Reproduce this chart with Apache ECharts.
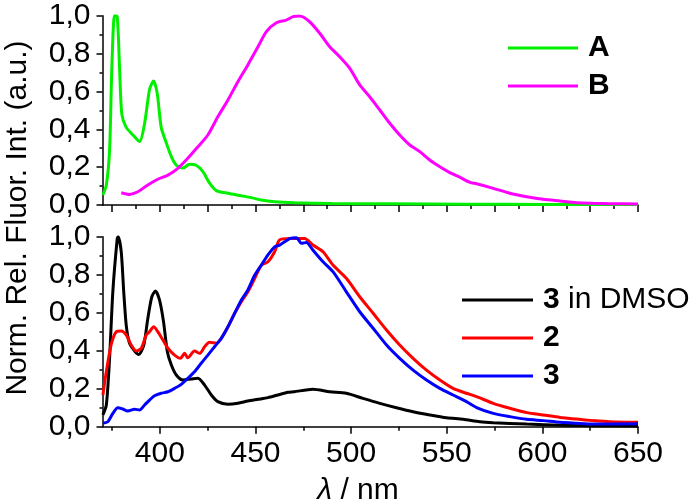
<!DOCTYPE html>
<html>
<head>
<meta charset="utf-8">
<script src="https://cdn.jsdelivr.net/npm/echarts@6/dist/echarts.min.js"></script>
<style>
html,body{margin:0;padding:0;background:#fff;}
#chart{width:689px;height:504px;}
</style>
</head>
<body>
<div id="chart"></div>
<script>
// ---------- data (wavelength in nm, normalized intensity) ----------
const A_nm  = [370.2,372,373.7,374.9,376.3,377.7,378.9,380.1,382.4,385.9,389.4,392,394.6,396.7,398.6,400.7,403.3,406,408.6,412,415.5,419,422.5,426,429.5,435.6,442.6,447.8,453,460,470.5,490,520,560,600,650];
const A_val = [0.053,0.105,0.29,0.73,1.0,0.995,0.73,0.48,0.41,0.37,0.335,0.43,0.61,0.655,0.59,0.41,0.33,0.255,0.21,0.195,0.215,0.21,0.176,0.115,0.076,0.062,0.049,0.039,0.026,0.017,0.012,0.008,0.006,0.004,0.003,0.002];

const B_nm  = [379.8,384.1,388.5,393.7,398.9,404.2,409.4,414.6,419.9,425.1,430.3,435.6,440.8,446,451.3,455.7,460.9,466.1,469.6,473.1,478.3,483.6,488.8,494,499.3,504.5,509.7,515,520.2,525.4,530.7,535.9,541.1,546.4,551.6,556.8,562.1,565.6,574.3,583,591.8,600.4,609.2,617.9,626.6,635.3,650];
const B_val = [0.065,0.056,0.07,0.106,0.136,0.158,0.194,0.247,0.308,0.37,0.466,0.555,0.651,0.74,0.836,0.916,0.963,0.977,0.995,0.998,0.968,0.907,0.836,0.783,0.722,0.634,0.572,0.502,0.432,0.37,0.317,0.282,0.238,0.202,0.171,0.147,0.12,0.112,0.088,0.062,0.044,0.03,0.021,0.012,0.009,0.007,0.005];

const D_nm  = [370.2,372,373.7,375.4,377.7,378.2,379.8,381.1,382.4,384.1,386.7,389,391.6,393.7,395.8,397.7,399.8,401.9,403.9,406,408.6,412,416.4,419.9,423.4,426.9,430.3,435.6,440.8,446,451.3,456.5,461.7,467,470.1,480,488.8,497.5,506.2,515,523.7,532.4,541.1,549.9,558.6,567.3,574.3,591.8,610,630,650];
const D_val = [0.062,0.114,0.36,0.71,0.99,1.0,0.92,0.71,0.535,0.44,0.40,0.38,0.43,0.57,0.684,0.714,0.667,0.553,0.395,0.325,0.272,0.246,0.251,0.255,0.219,0.167,0.132,0.118,0.123,0.135,0.144,0.153,0.167,0.181,0.184,0.197,0.184,0.176,0.149,0.123,0.10,0.079,0.062,0.047,0.039,0.026,0.021,0.014,0.008,0.005,0.004];

const R_nm  = [370.2,372,374.5,377.2,379.8,382.4,385,387.6,390.3,392.9,394.6,396.8,398.9,401.6,404.2,407.7,410.8,412.9,414.6,418.1,420.8,423.4,426,429.5,432.1,435.6,439.1,442.6,446,449.6,453.1,456.5,460,462.6,467.9,475.7,480,485.3,490.5,497.5,504.5,511.5,518.5,525.4,532.4,539.4,546.4,553.3,560.3,565.6,574.3,583,591.8,600.4,609.2,617.9,626.6,635.3,650];
const R_val = [0.167,0.29,0.43,0.50,0.504,0.483,0.43,0.398,0.413,0.483,0.50,0.526,0.50,0.456,0.413,0.377,0.36,0.386,0.363,0.398,0.386,0.421,0.444,0.439,0.465,0.526,0.597,0.658,0.71,0.781,0.851,0.868,0.921,0.983,0.99,0.99,0.956,0.921,0.851,0.781,0.684,0.597,0.509,0.43,0.36,0.298,0.246,0.202,0.176,0.158,0.123,0.097,0.074,0.062,0.049,0.04,0.032,0.026,0.023];

const C_nm  = [370.2,372.8,375.4,378,380.6,383.2,386.7,389.4,392,394.6,397.2,400.7,404.2,407.7,411.2,414.6,418.1,421.6,425.1,428.6,432.1,435.6,439.1,442.6,446,449.6,453.1,456.5,460,462.6,467.9,471.4,474,476.6,480,485.3,490.5,497.5,504.5,511.5,518.5,525.4,532.4,539.4,546.4,553.3,560.3,565.6,574.3,583,591.8,600.4,609.2,617.9,626.6,650];
const C_val = [0.018,0.026,0.07,0.10,0.093,0.083,0.092,0.088,0.114,0.14,0.163,0.176,0.184,0.202,0.223,0.255,0.289,0.334,0.377,0.421,0.465,0.526,0.597,0.667,0.72,0.798,0.851,0.904,0.947,0.956,0.99,0.995,0.965,0.97,0.93,0.868,0.816,0.71,0.605,0.518,0.43,0.36,0.298,0.246,0.202,0.167,0.132,0.101,0.07,0.053,0.039,0.032,0.023,0.018,0.014,0.016];

const xMajorTop = [375,400,425,450,475,500,525,550,575,600,625,650];
const xMinorTop = [387.5,412.5,437.5,462.5,487.5,512.5,537.5,562.5,587.5,612.5,637.5];
const xMajorBottom = [400,450,500,550,600,650];
const xMinorBottom = [375,425,475,525,575,625];

const seriesNames = ['A','B','3 in DMSO','2','3'];
const seriesColors = ['#00f000','#ff00ff','#000000','#ff0000','#0000ff'];

// ---------- chart ----------
const pairs = (xs, ys) => xs.map((x, i) => [x, ys[i]]);
const FONT = '"Liberation Sans", Arial, sans-serif';

const chart = echarts.init(document.getElementById('chart'), null, {renderer: 'canvas'});

const grids = [
  {left: 102.5, right: 51, top: 15.7, height: 189.3},
  {left: 102.5, right: 51, top: 236.7, height: 190}
];

function xAxisDef(grid, ticks, len, labels, showLine) {
  return {
    type: 'value', gridIndex: grid, min: 370, max: 650, position: 'bottom',
    axisLine: {show: showLine, onZero: false, lineStyle: {color: '#000', width: 1.5}},
    axisTick: {show: true, length: len, customValues: ticks, lineStyle: {color: '#000', width: 1.5}},
    axisLabel: labels ? {show: true, customValues: labels, fontSize: 30, color: '#000', fontFamily: FONT, margin: 12} : {show: false},
    splitLine: {show: false}
  };
}
function yAxisDef(grid) {
  return {
    type: 'value', gridIndex: grid, min: 0, max: 1, interval: 0.2,
    axisLine: {show: true, onZero: false, lineStyle: {color: '#000', width: 1.5}},
    axisTick: {show: true, length: 6, lineStyle: {color: '#000', width: 1.5}},
    minorTick: {show: true, splitNumber: 2, length: 3, lineStyle: {color: '#000', width: 1.5}},
    axisLabel: {fontSize: 30, color: '#000', fontFamily: FONT, margin: 12,
      formatter: v => v.toFixed(1).replace('.', ',')},
    splitLine: {show: false}
  };
}

const allSeries = [
  [A_nm, A_val, 0, 0], [B_nm, B_val, 0, 0],
  [D_nm, D_val, 2, 1], [R_nm, R_val, 2, 1], [C_nm, C_val, 2, 1]
].map((s, i) => ({
  name: seriesNames[i], type: 'line', xAxisIndex: s[2], yAxisIndex: s[3],
  data: pairs(s[0], s[1]), showSymbol: false, symbol: 'none', smooth: 0.25,
  lineStyle: {color: seriesColors[i], width: 3}, itemStyle: {color: seriesColors[i]},
  animation: false, z: 3
}));

const legendText = {fontSize: 30, color: '#000', fontFamily: FONT, padding: [0, 0, 0, 5],
  rich: {b: {fontSize: 30, fontWeight: 'bold', color: '#000', fontFamily: FONT}}};

chart.setOption({
  animation: false,
  backgroundColor: '#fff',
  grid: grids,
  xAxis: [
    xAxisDef(0, xMajorTop, 7, null, true),
    xAxisDef(0, xMinorTop, 4, null, false),
    xAxisDef(1, xMajorBottom, 7, xMajorBottom, true),
    xAxisDef(1, xMinorBottom, 4, null, false)
  ],
  yAxis: [yAxisDef(0), yAxisDef(1)],
  legend: [
    {data: ['A','B'], orient: 'vertical', left: 503, top: 28, icon: 'rect', itemWidth: 70, itemHeight: 3, itemGap: 8,
     formatter: n => '{b|' + n + '}', textStyle: legendText, selectedMode: false},
    {data: ['3 in DMSO','2','3'], orient: 'vertical', left: 457, top: 280, icon: 'rect', itemWidth: 71, itemHeight: 3, itemGap: 8,
     formatter: n => n === '3 in DMSO' ? '{b|3} in DMSO' : '{b|' + n + '}', textStyle: legendText, selectedMode: false}
  ],
  graphic: [
    {type: 'text', x: 18, y: 218, rotation: Math.PI / 2,
     style: {text: 'Norm. Rel. Fluor. Int. (a.u.)', font: '30px ' + FONT, fill: '#000', align: 'center', verticalAlign: 'middle'}},
    {type: 'text', x: 358, y: 491,
     style: {text: '{i|λ} / nm', fill: '#000', font: '30px ' + FONT, align: 'center', verticalAlign: 'middle',
       rich: {i: {fontStyle: 'italic', fontSize: 30, fontFamily: FONT, fill: '#000'}}}}
  ],
  series: allSeries
});
</script>
</body>
</html>
